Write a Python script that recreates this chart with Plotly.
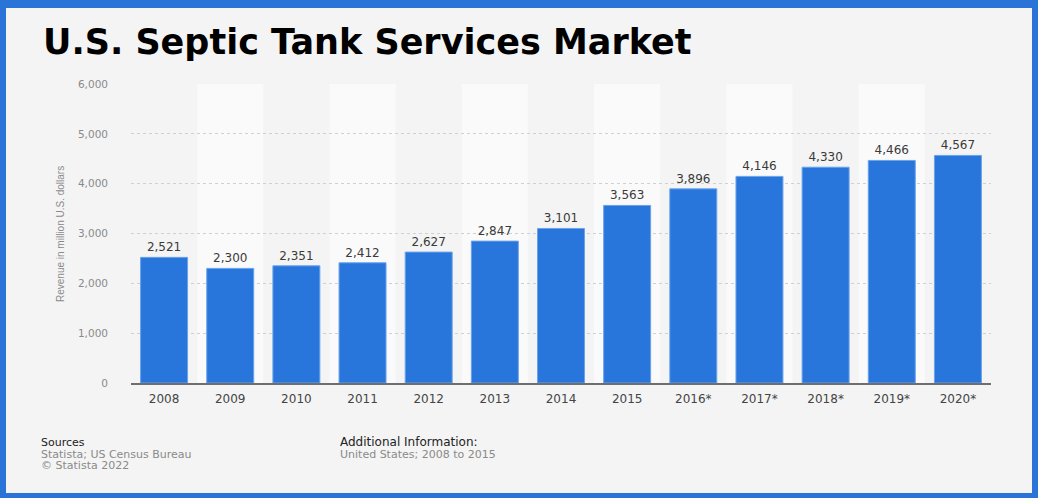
import plotly.graph_objects as go

years = ["2008", "2009", "2010", "2011", "2012", "2013", "2014",
         "2015", "2016*", "2017*", "2018*", "2019*", "2020*"]
revenue = [2521, 2300, 2351, 2412, 2627, 2847, 3101,
           3563, 3896, 4146, 4330, 4466, 4567]
y_ticks = [0, 1000, 2000, 3000, 4000, 5000, 6000]

W, H = 1038, 498
L, R, T, B = 131, 47, 84, 115
PW, PH = W - L - R, H - T - B


def px(x):
    return (x - L) / PW


def py(y):
    return (H - B - y) / PH


FONT = "DejaVu Sans, Liberation Sans, Arial, sans-serif"
NARROW = "Liberation Sans Narrow, Arial Narrow, Liberation Sans, Arial, sans-serif"
BLUE = "#2875dc"

fig = go.Figure()
fig.add_trace(go.Bar(
    x=list(range(len(years))), y=revenue,
    marker=dict(color=BLUE, line=dict(color="#6aa3ea", width=1)),
    width=0.71,
    texttemplate="%{y:,}", textposition="outside", cliponaxis=False,
    textfont=dict(family=FONT, size=12, color="#3a3a3a"),
    hoverinfo="skip",
))

shapes = [
    dict(type="rect", xref="paper", yref="paper", layer="below",
         x0=px(6), x1=px(1032), y0=py(493), y1=py(8),
         fillcolor="#f4f4f4", line=dict(width=0)),
]
for i in range(len(years)):
    if i % 2 == 1:
        shapes.append(dict(type="rect", xref="x", yref="y", layer="below",
                           x0=i - 0.5, x1=i + 0.5, y0=0, y1=y_ticks[-1],
                           fillcolor="#fafafa", line=dict(width=0)))

annotations = [
    dict(text="<b>U.S. Septic Tank Services Market</b>", xref="paper", yref="paper",
         x=px(41), y=py(42), xanchor="left", yanchor="middle", showarrow=False,
         font=dict(family=FONT, size=35, color="#000000")),
    dict(text="Revenue in million U.S. dollars", xref="paper", yref="paper",
         x=px(60), y=py(234), xanchor="center", yanchor="middle", showarrow=False,
         textangle=-90,
         font=dict(family=NARROW, size=10, color="#8a8a8a")),
    dict(text="Sources", xref="paper", yref="paper",
         x=px(39), y=py(442), xanchor="left", yanchor="middle", showarrow=False,
         font=dict(family=FONT, size=11, color="#222222")),
    dict(text="Statista; US Census Bureau", xref="paper", yref="paper",
         x=px(39), y=py(454), xanchor="left", yanchor="middle", showarrow=False,
         font=dict(family=FONT, size=11, color="#8a8a8a")),
    dict(text="© Statista 2022", xref="paper", yref="paper",
         x=px(39), y=py(465), xanchor="left", yanchor="middle", showarrow=False,
         font=dict(family=FONT, size=11, color="#8a8a8a")),
    dict(text="Additional Information:", xref="paper", yref="paper",
         x=px(338), y=py(442), xanchor="left", yanchor="middle", showarrow=False,
         font=dict(family=FONT, size=12, color="#222222")),
    dict(text="United States; 2008 to 2015", xref="paper", yref="paper",
         x=px(338), y=py(454), xanchor="left", yanchor="middle", showarrow=False,
         font=dict(family=FONT, size=11, color="#8a8a8a")),
]

fig.update_layout(
    width=W, height=H,
    margin=dict(l=L, r=R, t=T, b=B, pad=0),
    paper_bgcolor="#2a74d8",
    plot_bgcolor="rgba(0,0,0,0)",
    showlegend=False,
    shapes=shapes,
    annotations=annotations,
    xaxis=dict(
        tickmode="array", tickvals=list(range(len(years))), ticktext=years,
        range=[-0.5, len(years) - 0.5],
        showgrid=False, zeroline=False,
        showline=True, linecolor="#6e6e6e", linewidth=1.5,
        ticks="", tickfont=dict(family=FONT, size=12, color="#444444"),
        ticklabelstandoff=4,
    ),
    yaxis=dict(
        range=[0, 6000], tickvals=y_ticks, tickformat=",",
        showgrid=True, gridcolor="#d0d0d0", griddash="dot", gridwidth=1,
        zeroline=False, showline=False, ticks="",
        tickfont=dict(family=FONT, size=10.5, color="#8a8a8a"),
        ticklabelstandoff=22,
    ),
)

fig.write_html("out.html", config={"displayModeBar": False},
               post_script="document.body.style.margin='0px';")
